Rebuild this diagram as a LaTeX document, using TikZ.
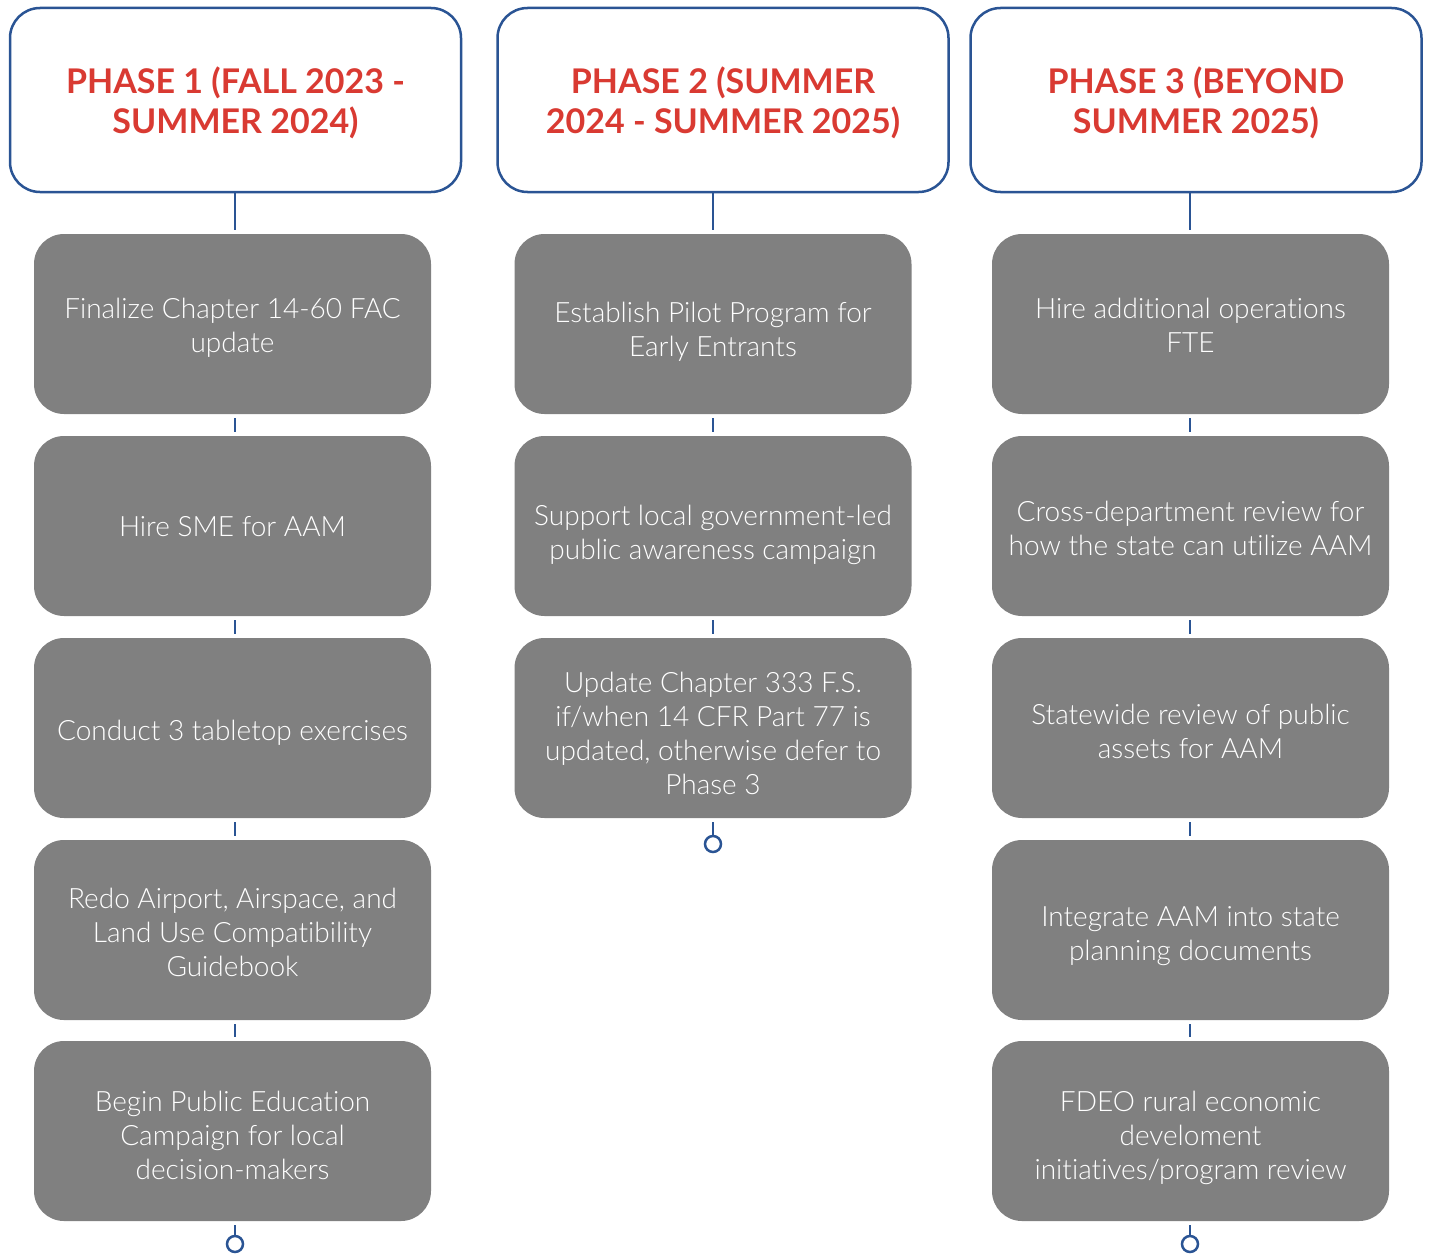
\documentclass[tikz,border=0pt]{standalone}
\usepackage{fontspec}
\setmainfont{Lato}[Ligatures=NoCommon]
\newfontfamily\lightfont{Lato Light}[Ligatures=NoCommon]
\definecolor{phred}{HTML}{D93A32}
\definecolor{phblue}{HTML}{2A5494}
\definecolor{boxgray}{HTML}{808080}
\newcommand\taskbox[4]{%
  \node[task] (#1) at (#2) {};
  \node[tasktext] (#1t) at ([yshift=-#3pt]#1.center) {#4};}
\newcommand\headbox[3]{%
  \node[header] (#1) at (#2) {};
  \node[headtext] (#1t) at ([yshift=-3pt]#1.center) {#3};}
\begin{document}
\begin{tikzpicture}[x=1pt,y=-1pt,
  header/.style={draw=phblue, line width=2.5pt, fill=white, rounded corners=30pt,
    minimum width=451pt, minimum height=184pt, inner sep=0pt},
  headtext/.style={align=center, text=phred, font=\fontsize{34}{40}\selectfont\bfseries, inner sep=0pt},
  task/.style={fill=boxgray, rounded corners=30pt, minimum width=397pt, minimum height=180pt, inner sep=0pt},
  tasktext/.style={align=center, text=white, font=\lightfont\fontsize{28}{34}\selectfont, inner sep=0pt},
  link/.style={draw=phblue, line width=2.5pt},
  endcap/.style={circle, draw=phblue, line width=2.5pt, fill=white, minimum size=16pt, inner sep=0pt}
]
\useasboundingbox (0,0) rectangle (1429,1255);

% headers
\headbox{h1}{235.5,100}{PHASE 1 (FALL 2023 -\\SUMMER 2024)}
\headbox{h2}{723,100}{PHASE 2 (SUMMER\\2024 - SUMMER 2025)}
\headbox{h3}{1196,100}{PHASE 3 (BEYOND\\SUMMER 2025)}

% column 1
\taskbox{a1}{232.5,324}{4}{Finalize Chapter 14-60 FAC\\update}
\taskbox{a2}{232.5,526}{1}{Hire SME for AAM}
\taskbox{a3}{232.5,728}{5}{Conduct 3 tabletop exercises}
\taskbox{a4}{232.5,930}{2}{Redo Airport, Airspace, and\\Land Use Compatibility\\Guidebook}
\taskbox{a5}{232.5,1131}{4}{Begin Public Education\\Campaign for local\\decision-makers}
\node[endcap] (e1) at (235,1244) {};

% column 2
\taskbox{b1}{713,324}{8}{Establish Pilot Program for\\Early Entrants}
\taskbox{b2}{713,526}{9}{Support local government-led\\public awareness campaign}
\taskbox{b3}{713,728}{5}{Update Chapter 333 F.S.\\if/when 14 CFR Part 77 is\\updated, otherwise defer to\\Phase 3}
\node[endcap] (e2) at (713,844) {};

% column 3
\taskbox{c1}{1190.5,324}{1}{Hire additional operations\\FTE}
\taskbox{c2}{1190.5,526}{2}{Cross-department review for\\how the state can utilize AAM}
\taskbox{c3}{1190.5,728}{3}{Statewide review of public\\assets for AAM}
\taskbox{c4}{1190.5,930}{6}{Integrate AAM into state\\planning documents}
\taskbox{c5}{1190.5,1131}{7}{FDEO rural economic\\develoment\\initiatives/program review}
\node[endcap] (e3) at (1190,1244) {};

% connectors
\draw[link, shorten >=4pt] (h1.south -| e1) -- (a1.north -| e1);
\draw[link, shorten >=4pt] (h2.south -| e2) -- (b1.north -| e2);
\draw[link, shorten >=4pt] (h3.south -| e3) -- (c1.north -| e3);
\foreach \u/\v in {a1/a2,a2/a3,a3/a4,a4/a5}
  \draw[link, shorten <=4pt, shorten >=4pt] (\u.south -| e1) -- (\v.north -| e1);
\foreach \u/\v in {b1/b2,b2/b3}
  \draw[link, shorten <=4pt, shorten >=4pt] (\u.south -| e2) -- (\v.north -| e2);
\foreach \u/\v in {c1/c2,c2/c3,c3/c4,c4/c5}
  \draw[link, shorten <=4pt, shorten >=4pt] (\u.south -| e3) -- (\v.north -| e3);
\draw[link, shorten <=4pt] (a5.south -| e1) -- (e1.north);
\draw[link, shorten <=4pt] (b3.south -| e2) -- (e2.north);
\draw[link, shorten <=4pt] (c5.south -| e3) -- (e3.north);
\end{tikzpicture}
\end{document}
